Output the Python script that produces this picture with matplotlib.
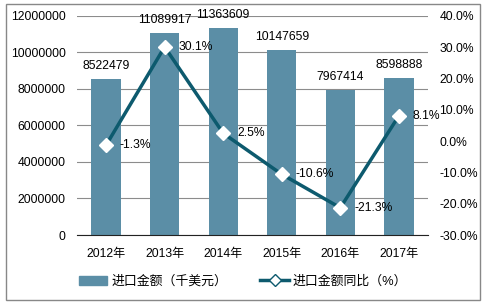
import numpy as np
import matplotlib.pyplot as plt
from matplotlib.patches import Rectangle
from matplotlib.lines import Line2D
from matplotlib.ticker import FuncFormatter

plt.rcParams['font.family'] = ['Liberation Sans', 'Noto Sans CJK SC', 'DejaVu Sans']

years = ['2012年', '2013年', '2014年', '2015年', '2016年', '2017年']
amount = [8522479, 11089917, 11363609, 10147659, 7967414, 8598888]
growth = [-1.3, 30.1, 2.5, -10.6, -21.3, 8.1]

bar_color = '#5b8ea6'
line_color = '#0d5a6e'

fig = plt.figure(figsize=(4.86, 3.06), dpi=100)
ax = fig.add_axes([0.158, 0.232, 0.723, 0.716])
x = np.arange(len(years))

ax.bar(x, amount, width=0.5, color=bar_color, zorder=2)
ax.set_ylim(0, 12000000)
ax.set_yticks(np.arange(0, 12000001, 2000000))
ax.yaxis.set_major_formatter(FuncFormatter(lambda v, p: '%d' % v))
ax.set_xlim(-0.5, len(years) - 0.5)
ax.set_xticks(x)
ax.set_xticklabels(years)
ax.grid(axis='y', color='#8c8c8c', linewidth=0.8, zorder=0)
for s in ['top', 'left', 'right']:
    ax.spines[s].set_visible(False)
ax.spines['bottom'].set_color('#222222')
ax.tick_params(length=0, labelsize=8.7, pad=8)
ax.tick_params(axis='x', pad=9)
for xi, v in zip(x, amount):
    ax.annotate(str(v), (xi, v), xytext=(0, 5), textcoords='offset points',
                ha='center', va='bottom', fontsize=8.7)

ax2 = ax.twinx()
ax2.plot(x, growth, color=line_color, linewidth=2.5, marker='D', markersize=7,
         markerfacecolor='white', markeredgecolor='white', zorder=3)
ax2.set_ylim(-30, 40)
ax2.set_yticks(np.arange(-30, 41, 10))
ax2.set_yticklabels(['%.1f%%' % t for t in np.arange(-30, 41, 10)])
for s in ax2.spines.values():
    s.set_visible(False)
ax2.tick_params(length=0, labelsize=8.7, pad=8)
for xi, g in zip(x, growth):
    ax2.annotate('%.1f%%' % g, (xi, g), xytext=(10, 0), textcoords='offset points',
                 ha='left', va='center', fontsize=8.7)

handles = [Rectangle((0, 0), 1, 1, color=bar_color),
           Line2D([], [], color=line_color, linewidth=2.5, marker='D', markersize=6,
                  markerfacecolor='white', markeredgecolor=line_color)]
fig.legend(handles, ['进口金额（千美元）', '进口金额同比（%）'], loc='center',
           bbox_to_anchor=(0.5, 0.08), ncol=2, frameon=False, fontsize=9.3,
           handlelength=2.2, columnspacing=2.6, handletextpad=0.3)

fig.patches.append(Rectangle((0.012, 0.018), 0.976, 0.97, transform=fig.transFigure,
                             fill=False, edgecolor='#888888', linewidth=1))

fig.savefig('out.png', dpi=100)
